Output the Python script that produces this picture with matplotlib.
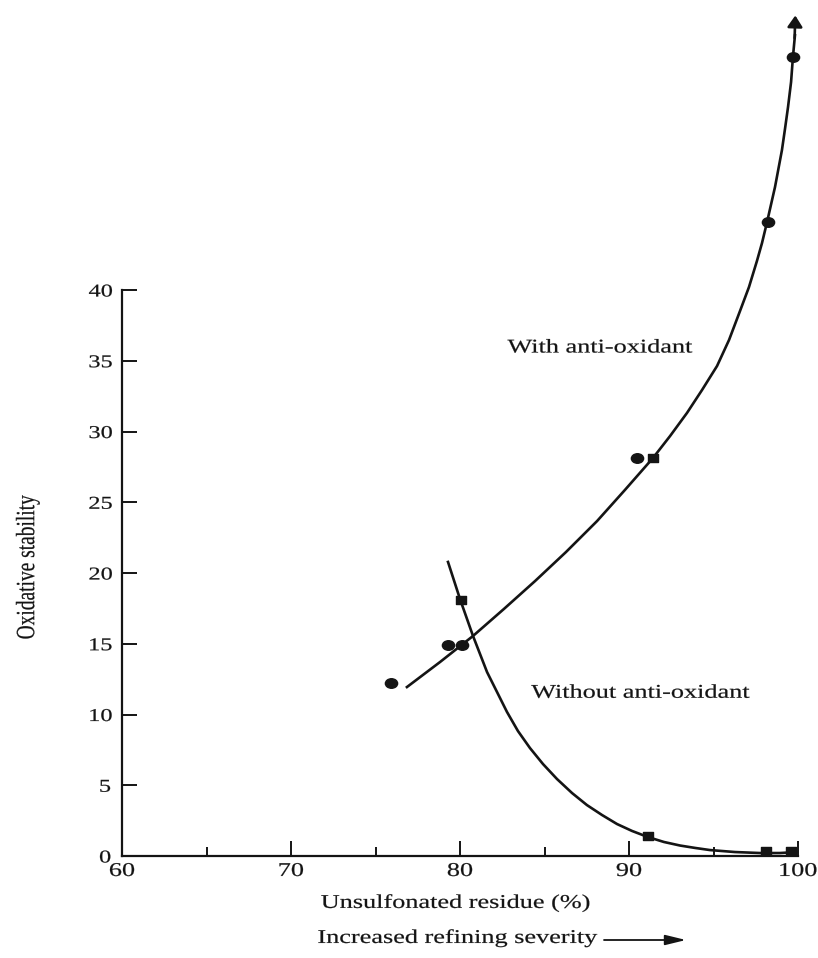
import matplotlib
matplotlib.use('Agg')
import matplotlib.pyplot as plt
from matplotlib.path import Path
from matplotlib.transforms import Affine2D
from matplotlib.patheffects import AbstractPathEffect

plt.rcParams['font.family'] = ['Liberation Serif', 'DejaVu Serif']

# measured points
circle_x = [75.9, 79.3, 80.1, 90.5, 98.2, 99.7]
circle_y = [12.2, 14.9, 14.9, 28.1, 44.8, 56.5]
square_x = [80.05, 91.4, 91.1, 98.1, 99.6]
square_y = [18.1, 28.1, 1.4, 0.35, 0.35]

# hand drawn curves
with_x = [76.86, 78.82, 80.77, 82.60, 84.44, 86.27, 88.11, 89.76, 91.42, 92.43,
          93.43, 94.32, 95.21, 95.92, 96.57, 97.10, 97.57, 97.87, 98.17, 98.64,
          99.05, 99.23, 99.41, 99.59, 99.70, 99.82]
with_y = [11.94, 13.71, 15.55, 17.46, 19.43, 21.48, 23.67, 25.87, 28.13, 29.68,
          31.31, 32.93, 34.63, 36.47, 38.52, 40.21, 42.05, 43.32, 44.81, 47.28,
          49.89, 51.38, 52.93, 54.70, 56.47, 58.0]
without_x = [79.29, 80.00, 80.77, 81.60, 82.19, 82.78, 83.43, 84.14, 84.91, 85.74,
             86.63, 87.51, 88.40, 89.29, 90.18, 91.12, 92.07, 93.02, 93.91, 94.79,
             96.27, 97.75, 98.93, 99.94]
without_y = [20.78, 18.16, 15.55, 13.00, 11.59, 10.18, 8.83, 7.63, 6.50, 5.44,
             4.45, 3.60, 2.90, 2.26, 1.77, 1.34, 0.99, 0.74, 0.57, 0.42,
             0.28, 0.21, 0.21, 0.28]

x_major = [60, 70, 80, 90, 100]
x_minor = [65, 75, 85, 95]
y_ticks = [0, 5, 10, 15, 20, 25, 30, 35, 40]

ink = '#141414'


class Widen(AbstractPathEffect):
    # the scan is stretched sideways: widen glyphs about their centre and
    # give them a hairline outline so they print like the original
    def __init__(self, k=1.35, stroke=0.15):
        super().__init__()
        self.k = k
        self.stroke = stroke

    def draw_path(self, renderer, gc, tpath, affine, rgbFace=None):
        ext = affine.transform_path(tpath).get_extents()
        cx = (ext.x0 + ext.x1) / 2
        widen = Affine2D().translate(-cx, 0).scale(self.k, 1).translate(cx, 0)
        gc0 = renderer.new_gc()
        gc0.copy_properties(gc)
        gc0.set_linewidth(self.stroke)
        gc0.set_foreground(rgbFace)
        renderer.draw_path(gc0, tpath, affine + widen, rgbFace)
        gc0.restore()


ellipse = Path.unit_circle().transformed(Affine2D().scale(1.28, 1.0))
box = Path.unit_rectangle().transformed(Affine2D().translate(-0.5, -0.5).scale(1.12, 1.0))

fig = plt.figure(figsize=(8.18, 9.58), dpi=100)
ax = fig.add_axes([122 / 818, 102 / 958, 676 / 818, 849 / 958])
ax.set_xlim(60, 100)
ax.set_ylim(0, 60)

ax.plot(with_x, with_y, color=ink, lw=1.9, clip_on=False, solid_joinstyle='round')
ax.plot(without_x, without_y, color=ink, lw=1.9, clip_on=False, solid_joinstyle='round')
ax.annotate('', xy=(99.84, 59.4), xytext=(99.80, 57.8),
            arrowprops=dict(arrowstyle='-|>,head_length=0.45,head_width=0.3',
                            color=ink, lw=1.9, mutation_scale=15,
                            shrinkA=0, shrinkB=0))
ax.plot(circle_x, circle_y, ls='none', marker=ellipse, ms=8.8, color=ink, clip_on=False)
ax.plot(square_x, square_y, ls='none', marker=box, ms=7, color=ink, clip_on=False)

ax.text(88.3, 35.9, 'With anti-oxidant', fontsize=14, color=ink,
        ha='center', va='center', path_effects=[Widen()])
ax.text(90.7, 11.5, 'Without anti-oxidant', fontsize=14, color=ink,
        ha='center', va='center', path_effects=[Widen()])

for s in ['top', 'right']:
    ax.spines[s].set_visible(False)
ax.spines['left'].set_bounds(0, 40)
for s in ['left', 'bottom']:
    ax.spines[s].set_linewidth(1.6)
    ax.spines[s].set_color(ink)

ax.set_xticks(x_major)
ax.set_xticks(x_minor, minor=True)
ax.set_yticks(y_ticks)
ax.tick_params(axis='both', which='major', direction='in', length=11, width=1.4,
               color=ink, labelcolor=ink)
ax.tick_params(axis='x', which='minor', direction='in', length=6.5, width=1.4, color=ink)
ax.tick_params(axis='x', which='major', labelsize=14, pad=5)
ax.tick_params(axis='y', which='major', labelsize=13, pad=9)
for t in ax.xaxis.get_major_ticks() + ax.yaxis.get_major_ticks():
    t.label1.set_path_effects([Widen()])

fig.text(28 / 818, 1 - 567 / 958, 'Oxidative stability', fontsize=14, color=ink,
         rotation=90, ha='center', va='center', path_effects=[Widen()])
fig.text(456 / 818, 1 - 903 / 958, 'Unsulfonated residue (%)', fontsize=14, color=ink,
         ha='center', va='center', path_effects=[Widen()])
fig.text(458 / 818, 1 - 938 / 958, 'Increased refining severity', fontsize=14, color=ink,
         ha='center', va='center', path_effects=[Widen()])
ax.annotate('', xy=(686 / 818, 1 - 940 / 958), xycoords='figure fraction',
            xytext=(604 / 818, 1 - 940 / 958), textcoords='figure fraction',
            arrowprops=dict(arrowstyle='-|>,head_length=0.9,head_width=0.22',
                            color=ink, lw=1.3, mutation_scale=14,
                            shrinkA=0, shrinkB=0))

fig.savefig('out.png', dpi=100)
